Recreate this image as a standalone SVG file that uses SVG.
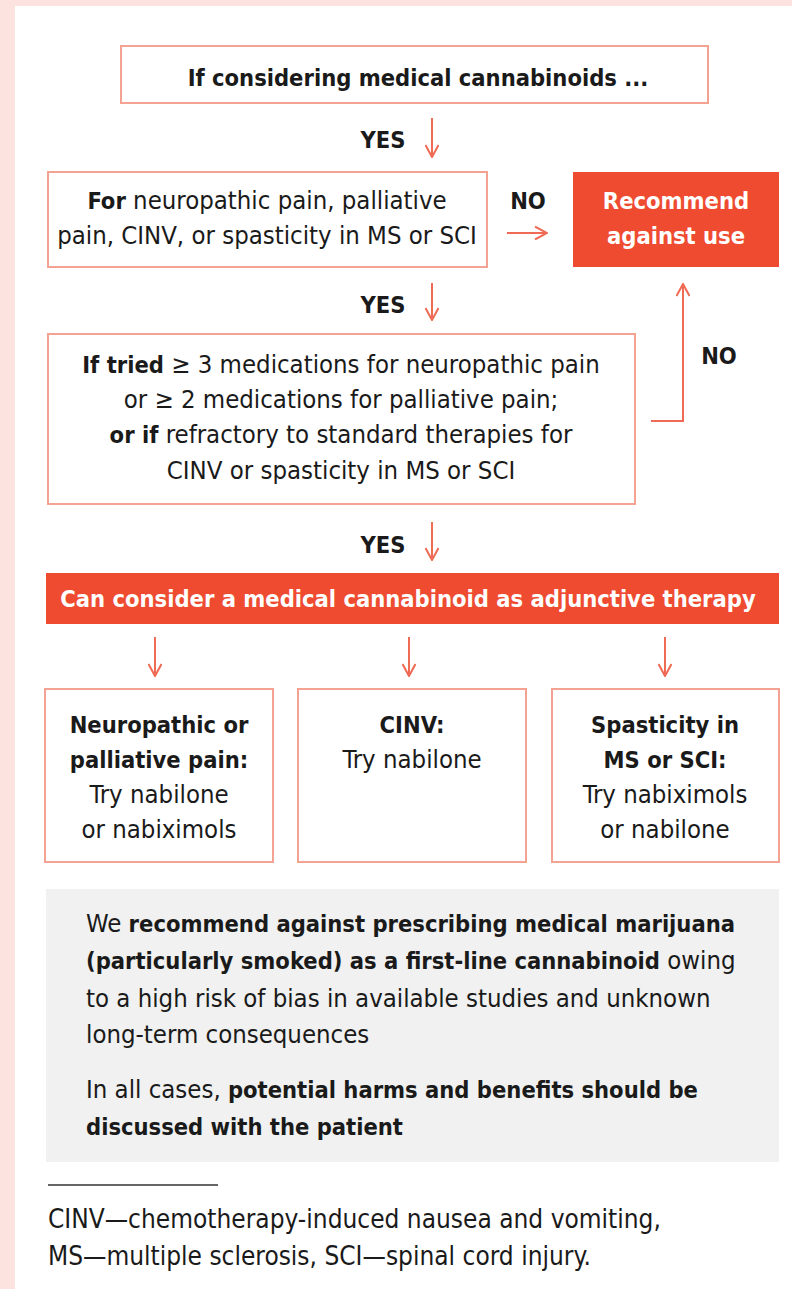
<svg xmlns="http://www.w3.org/2000/svg" width="792" height="1289" viewBox="0 0 792 1289">
<defs>
<style>
text{font-family:"Liberation Sans Narrow","DejaVu Sans Condensed",sans-serif;fill:#1a1a1a;font-size:25.5px}
.c{text-anchor:middle}
.b{font-weight:bold;font-size:23.5px}
.w{fill:#ffffff}
.f{font-size:26px}
.box{fill:#ffffff;stroke:#f4a393;stroke-width:2}
.red{fill:#ee4b30}
.con{fill:none;stroke:#ef6b55;stroke-width:2}
</style>
<marker id="ah" viewBox="0 0 14 14" markerWidth="14" markerHeight="14" refX="13" refY="7" orient="auto" markerUnits="userSpaceOnUse">
<path d="M1,0.5 L13,7 L1,13.5" fill="none" stroke="#ef6b55" stroke-width="2"/>
</marker>
</defs>
<rect x="0" y="0" width="792" height="1289" fill="#fce3df"/>
<rect x="15" y="6" width="777" height="1283" fill="#ffffff"/>

<g id="connectors">
<line class="con" x1="432" y1="118" x2="432" y2="157" marker-end="url(#ah)"/>
<text class="b" x="383" y="148" text-anchor="middle">YES</text>
<line class="con" x1="507" y1="233" x2="547" y2="233" marker-end="url(#ah)"/>
<text class="b" x="528" y="209" text-anchor="middle">NO</text>
<line class="con" x1="432" y1="283" x2="432" y2="320" marker-end="url(#ah)"/>
<text class="b" x="383" y="313" text-anchor="middle">YES</text>
<polyline class="con" points="651,421 683,421 683,284" marker-end="url(#ah)"/>
<text class="b" x="719" y="364" text-anchor="middle">NO</text>
<line class="con" x1="432" y1="522" x2="432" y2="560" marker-end="url(#ah)"/>
<text class="b" x="383" y="553" text-anchor="middle">YES</text>
<line class="con" x1="155" y1="637" x2="155" y2="676" marker-end="url(#ah)"/>
<line class="con" x1="409" y1="637" x2="409" y2="676" marker-end="url(#ah)"/>
<line class="con" x1="665" y1="637" x2="665" y2="676" marker-end="url(#ah)"/>
</g>

<g id="n1">
<rect class="box" x="121" y="46" width="587" height="57"/>
<text class="c b" x="418" y="86">If considering medical cannabinoids ...</text>
</g>

<g id="n2">
<rect class="box" x="48" y="172" width="439" height="95"/>
<text class="c" x="267" y="209"><tspan class="b">For</tspan> neuropathic pain, palliative</text>
<text class="c" x="267" y="244">pain, CINV, or spasticity in MS or SCI</text>
</g>

<g id="n3">
<rect class="red" x="573" y="172" width="206" height="95"/>
<text class="c b w" x="676" y="209">Recommend</text>
<text class="c b w" x="676" y="244">against use</text>
</g>

<g id="n4">
<rect class="box" x="48" y="334" width="587" height="170"/>
<text class="c" x="341" y="373"><tspan class="b">If tried</tspan> ≥ 3 medications for neuropathic pain</text>
<text class="c" x="341" y="408">or ≥ 2 medications for palliative pain;</text>
<text class="c" x="341" y="443"><tspan class="b">or if</tspan> refractory to standard therapies for</text>
<text class="c" x="341" y="479">CINV or spasticity in MS or SCI</text>
</g>

<g id="n5">
<rect class="red" x="46" y="573" width="733" height="51"/>
<text class="c b w" x="408" y="607">Can consider a medical cannabinoid as adjunctive therapy</text>
</g>

<g id="n6">
<rect class="box" x="45" y="689" width="228" height="173"/>
<text class="c b" x="159" y="733">Neuropathic or</text>
<text class="c b" x="159" y="768">palliative pain:</text>
<text class="c" x="159" y="803">Try nabilone</text>
<text class="c" x="159" y="838">or nabiximols</text>
</g>

<g id="n7">
<rect class="box" x="298" y="689" width="228" height="173"/>
<text class="c b" x="412" y="733">CINV:</text>
<text class="c" x="412" y="768">Try nabilone</text>
</g>

<g id="n8">
<rect class="box" x="552" y="689" width="227" height="173"/>
<text class="c b" x="665" y="733">Spasticity in</text>
<text class="c b" x="665" y="768">MS or SCI:</text>
<text class="c" x="665" y="803">Try nabiximols</text>
<text class="c" x="665" y="838">or nabilone</text>
</g>

<g id="note">
<rect x="46" y="889" width="733" height="273" fill="#f0f1f0"/>
<text x="86" y="932">We <tspan class="b">recommend against prescribing medical marijuana</tspan></text>
<text x="86" y="969"><tspan class="b">(particularly smoked) as a first-line cannabinoid</tspan> owing</text>
<text x="86" y="1007">to a high risk of bias in available studies and unknown</text>
<text x="86" y="1043">long-term consequences</text>
<text x="86" y="1098">In all cases, <tspan class="b">potential harms and benefits should be</tspan></text>
<text x="86" y="1135" class="b">discussed with the patient</text>
</g>

<g id="footnote">
<line x1="48" y1="1185" x2="218" y2="1185" stroke="#333333" stroke-width="1.5"/>
<text class="f" x="48" y="1228">CINV—chemotherapy-induced nausea and vomiting,</text>
<text class="f" x="48" y="1265">MS—multiple sclerosis, SCI—spinal cord injury.</text>
</g>
</svg>
